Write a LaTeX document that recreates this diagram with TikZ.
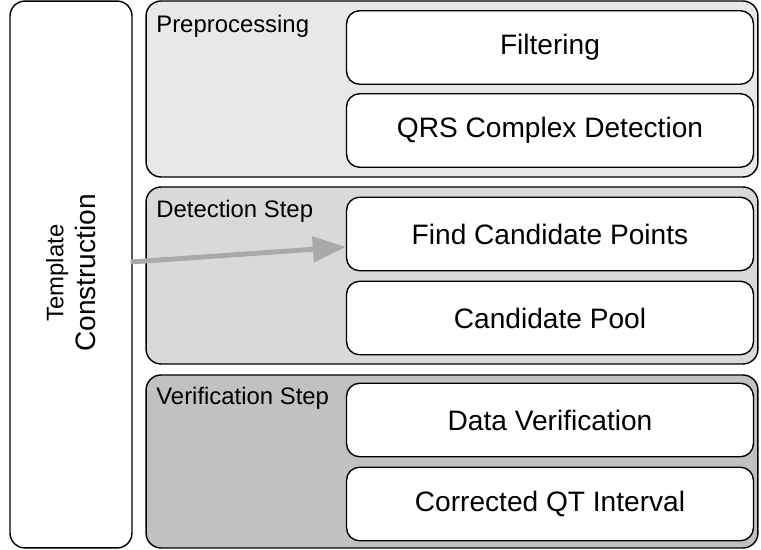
\documentclass[tikz,border=0pt]{standalone}
\usepackage{fontspec}
\setmainfont{Liberation Sans}
\usetikzlibrary{arrows.meta}
\definecolor{preFill}{HTML}{E8E8E8}
\definecolor{detFill}{HTML}{D9D9D9}
\definecolor{verFill}{HTML}{C1C1C1}
\definecolor{arrowGray}{HTML}{A9A9A9}
\newcommand{\panelfont}{\fontsize{13.6}{16}\selectfont}
\newcommand{\boxfont}{\fontsize{16}{19}\selectfont}

\begin{document}
\begin{tikzpicture}[x=0.02cm, y=-0.02cm,
    panel/.style={draw, line width=0.8pt, rounded corners=0.3cm, minimum width=12.24cm, inner sep=0pt},
    inbox/.style={draw, line width=0.8pt, rounded corners=0.26cm, fill=white, minimum width=8.14cm, minimum height=1.47cm, inner sep=0pt, font=\boxfont},
    tag/.style={anchor=base west, inner sep=0pt, font=\panelfont},
    flow/.style={line width=2.8pt, arrowGray, -{Triangle[length=0.66cm, width=0.5cm]}}]
  \useasboundingbox (0, 0) rectangle (761, 550);
  % left column
  \node[draw, line width=0.8pt, rounded corners=0.3cm, minimum width=2.44cm, minimum height=10.94cm] (tmpl) at (71, 274.5) {};
  \node[rotate=90, align=center, inner sep=0pt] (tmplText) at (71, 273) {{\panelfont Template}\\[3pt]{\boxfont Construction}};
  % panels
  \node[panel, fill=preFill, minimum height=3.52cm] (pre) at (452, 89) {};
  \node[panel, fill=detFill, minimum height=3.54cm] (det) at (452, 275.5) {};
  \node[panel, fill=verFill, minimum height=3.46cm] (ver) at (452, 461.5) {};
  \node[tag] (preTag) at (156, 33) {Preprocessing};
  \node[tag] (detTag) at (156, 218) {Detection Step};
  \node[tag] (verTag) at (156, 405) {Verification Step};
  % steps
  \node[inbox] (filt) at (550, 47.5) {Filtering};
  \node[inbox] (qrs) at (550, 130.5) {QRS Complex Detection};
  \node[inbox] (find) at (550, 234) {Find Candidate Points};
  \node[inbox] (pool) at (550, 318) {Candidate Pool};
  \node[inbox] (dver) at (550, 420) {Data Verification};
  \node[inbox] (qt) at (550, 504) {Corrected QT Interval};
  % template arrow
  \draw[flow] ([xshift=-0.04cm, yshift=0.25cm]tmpl.east) -- ([yshift=-0.26cm]find.west);
\end{tikzpicture}
\end{document}
